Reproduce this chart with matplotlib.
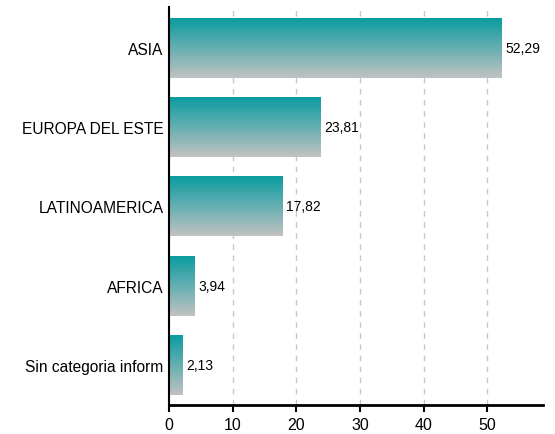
import numpy as np
import matplotlib
matplotlib.use("Agg")
import matplotlib.pyplot as plt
from matplotlib.colors import LinearSegmentedColormap

categories = ["ASIA", "EUROPA DEL ESTE", "LATINOAMERICA", "AFRICA", "Sin categoria inform"]
values = [52.29, 23.81, 17.82, 3.94, 2.13]
value_labels = ["52,29", "23,81", "17,82", "3,94", "2,13"]

plt.rcParams["font.family"] = ["Liberation Sans", "DejaVu Sans"]

fig = plt.figure(figsize=(5.55, 4.35), dpi=100)
ax = fig.add_axes([0.3045, 0.0667, 0.6735, 0.915])

cmap = LinearSegmentedColormap.from_list("tealgrey", ["#0a9ca0", "#c2c2c2"])
grad = np.linspace(0, 1, 256).reshape(-1, 1)

ypos = np.arange(len(categories))
height = 0.757
for y, v, lab in zip(ypos, values, value_labels):
    ax.imshow(grad, cmap=cmap, aspect="auto", origin="upper",
              extent=(0, v, y + height / 2, y - height / 2), zorder=2)
    ax.text(v + 0.6, y, lab, va="center", ha="left", fontsize=10)

ax.set_xlim(0, 58.7)
ax.set_ylim(4.505, -0.517)
ax.set_yticks(ypos)
ax.set_yticklabels(categories, fontsize=11.2)
ax.set_xticks([0, 10, 20, 30, 40, 50])
ax.tick_params(axis="x", labelsize=11.5, length=5, width=1.5, colors="black")
ax.tick_params(axis="y", length=0, pad=4)
ax.xaxis.grid(True, color="#c8c8c8", linestyle=(0, (4, 4)), linewidth=1)
ax.set_axisbelow(True)
for s in ["top", "right"]:
    ax.spines[s].set_visible(False)
ax.spines["left"].set_linewidth(1.5)
ax.spines["bottom"].set_linewidth(2)

fig.savefig("out.png", dpi=100)
